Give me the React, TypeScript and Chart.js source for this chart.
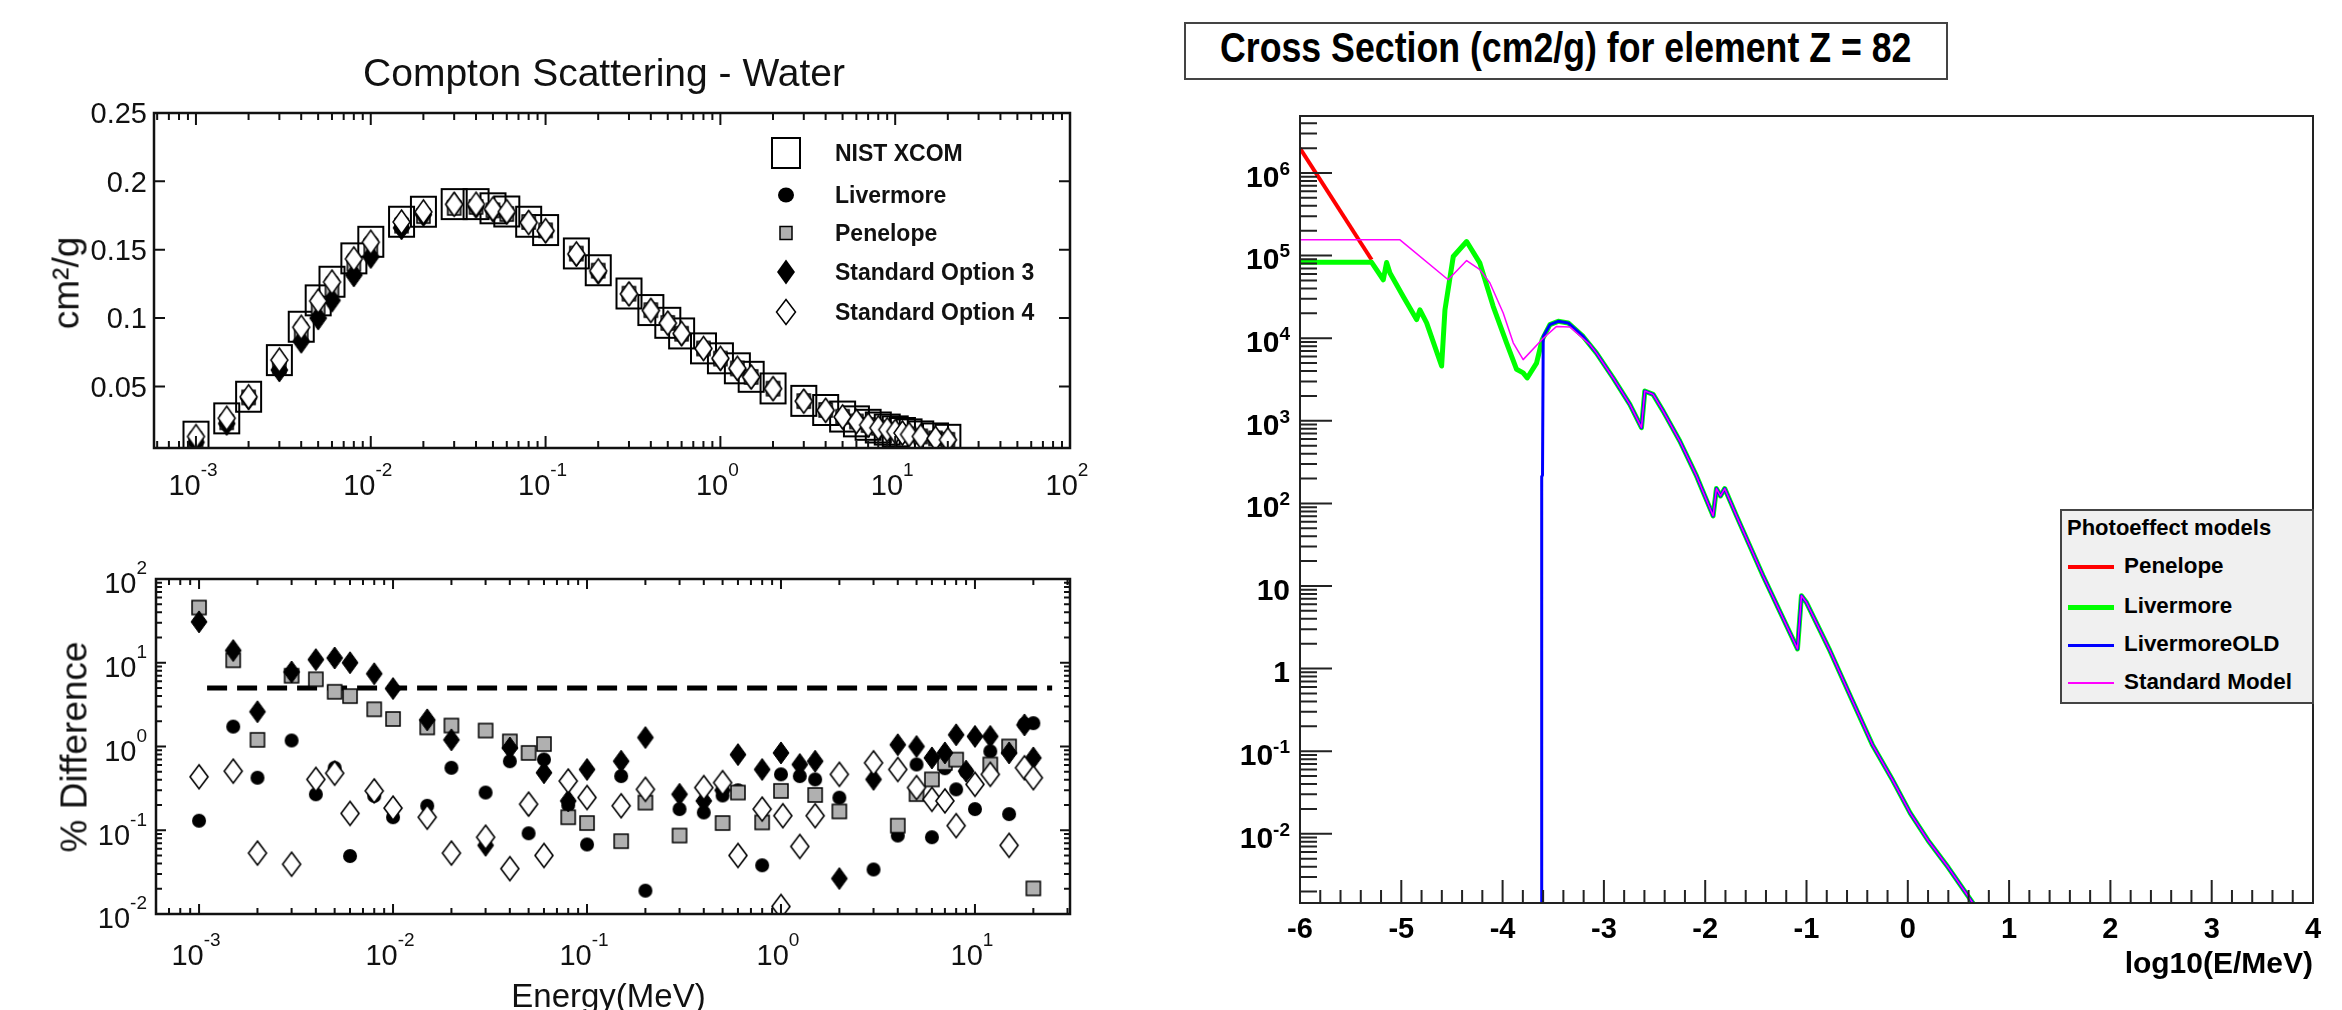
import React, { useEffect, useRef } from 'react';
import { Chart, registerables } from 'chart.js';

Chart.register(...registerables);

const FONT = '"Liberation Sans", Arial, Helvetica, sans-serif';

// ---------------- Compton Scattering - Water (top left) ----------------
const comptonEnergy = [0.001, 0.0015, 0.002, 0.003, 0.004, 0.005, 0.006, 0.008, 0.01, 0.015, 0.02, 0.03, 0.04, 0.05, 0.06, 0.08, 0.1, 0.15, 0.2, 0.3, 0.4, 0.5, 0.6, 0.8, 1, 1.25, 1.5, 2, 3, 4, 5, 6, 7, 8, 9, 10, 11, 12, 14, 17, 20];
const nistXcom = [0.0133, 0.0267, 0.0425, 0.0693, 0.0937, 0.113, 0.1266, 0.1437, 0.1558, 0.1705, 0.1778, 0.1834, 0.1834, 0.1803, 0.178, 0.1705, 0.1644, 0.1473, 0.135, 0.118, 0.1059, 0.0966, 0.0888, 0.0779, 0.0706, 0.0633, 0.0571, 0.0486, 0.0395, 0.0328, 0.028, 0.0245, 0.022, 0.02, 0.0185, 0.0172, 0.016, 0.015, 0.0135, 0.012, 0.011];
const livermoreCs = [0.0133, 0.0262, 0.0423, 0.0685, 0.0934, 0.1124, 0.1265, 0.1433, 0.1556, 0.1702, 0.1768, 0.1829, 0.1822, 0.1801, 0.1768, 0.1703, 0.1643, 0.1466, 0.135, 0.1178, 0.1057, 0.0964, 0.0885, 0.0779, 0.0703, 0.063, 0.0569, 0.0485, 0.0394, 0.0328, 0.0278, 0.0245, 0.0219, 0.0199, 0.0184, 0.0172, 0.016, 0.0149, 0.0135, 0.012, 0.011];
const penelopeCs = [0.0072, 0.0238, 0.042, 0.0645, 0.0877, 0.1079, 0.1215, 0.1397, 0.1525, 0.1676, 0.1746, 0.1806, 0.1813, 0.1788, 0.1761, 0.1703, 0.1642, 0.1472, 0.1347, 0.1179, 0.1058, 0.0965, 0.0886, 0.0778, 0.0704, 0.0632, 0.057, 0.0484, 0.0393, 0.0328, 0.0279, 0.0244, 0.0218, 0.0198, 0.0184, 0.0172, 0.016, 0.0149, 0.0135, 0.012, 0.011];
const stdOpt3Cs = [0.0092, 0.0229, 0.0414, 0.062, 0.083, 0.1, 0.113, 0.1315, 0.145, 0.166, 0.1757, 0.1833, 0.1816, 0.1788, 0.1771, 0.1701, 0.1635, 0.1463, 0.1333, 0.1177, 0.1057, 0.0963, 0.0881, 0.0775, 0.07, 0.0628, 0.0567, 0.0484, 0.0393, 0.0324, 0.0275, 0.0243, 0.0216, 0.0196, 0.0182, 0.017, 0.0158, 0.0147, 0.0134, 0.0119, 0.0109];
const stdOpt4Cs = [0.0134, 0.0268, 0.0425, 0.0693, 0.0933, 0.1125, 0.1264, 0.1433, 0.1555, 0.1703, 0.1777, 0.1832, 0.1833, 0.1799, 0.1779, 0.1699, 0.164, 0.147, 0.1346, 0.1177, 0.1056, 0.0963, 0.0888, 0.0778, 0.0706, 0.0633, 0.057, 0.0484, 0.0392, 0.0326, 0.0278, 0.0244, 0.0218, 0.0198, 0.0184, 0.0171, 0.016, 0.0149, 0.0135, 0.012, 0.011];
const comptonXTicks = [1e-3, 1e-2, 1e-1, 1, 10, 100];
const comptonXTickLabels = ['10^-3', '10^-2', '10^-1', '10^0', '10^1', '10^2'];
const comptonYTicks = [0.05, 0.1, 0.15, 0.2, 0.25];
const comptonYTickLabels = ['0.05', '0.1', '0.15', '0.2', '0.25'];
const comptonLegend = ['NIST XCOM', 'Livermore', 'Penelope', 'Standard Option 3', 'Standard Option 4'];

// ---------------- % Difference (bottom left) ----------------
const diffEnergy = [0.001, 0.0015, 0.002, 0.003, 0.004, 0.005, 0.006, 0.008, 0.01, 0.015, 0.02, 0.03, 0.04, 0.05, 0.06, 0.08, 0.1, 0.15, 0.2, 0.3, 0.4, 0.5, 0.6, 0.8, 1, 1.022, 1.25, 1.5, 2, 3, 4, 5, 6, 7, 8, 9, 10, 12, 15, 18, 20];
const livermoreDiff = [0.13, 1.73, 0.424, 1.18, 0.269, 0.557, 0.0492, 0.257, 0.143, 0.196, 0.557, 0.282, 0.667, 0.092, 0.7, 0.2, 0.0676, 0.443, 0.019, 0.179, 0.163, 0.26, 0.3, 0.0382, 0.465, null, 0.443, 0.405, 0.245, 0.034, 0.0865, 0.61, 0.0826, 0.55, 0.308, 0.5, 0.179, 0.877, 0.156, 1.85, 1.9];
const penelopeDiff = [45.6, 10.7, 1.2, 7.0, 6.35, 4.5, 4.0, 2.78, 2.13, 1.69, 1.78, 1.55, 1.15, 0.838, 1.07, 0.143, 0.122, 0.0741, 0.214, 0.0865, null, 0.122, 0.282, 0.124, 0.295, null, null, 0.264, 0.168, null, 0.1135, 0.27, 0.405, 0.638, 0.698, null, null, 0.61, 1.0, null, 0.0202];
const stdOpt3Diff = [30.8, 14, 2.6, 7.76, 10.9, 11.4, 10, 7.4, 4.92, 2.08, 1.2, 0.066, 0.96, 0.2, 0.486, 0.224, 0.532, 0.667, 1.28, 0.269, 0.224, 0.3, 0.8, 0.532, 0.838, null, 0.61, 0.667, 0.0265, 0.405, 1.05, 1.0, 0.731, 0.838, 1.38, 0.508, 1.32, 1.32, 0.838, 1.81, 0.731];
const stdOpt4Diff = [0.435, 0.508, 0.0534, 0.0393, 0.405, 0.48, 0.159, 0.295, 0.184, 0.143, 0.0534, 0.0826, 0.0348, 0.205, 0.05, 0.387, 0.246, 0.196, 0.308, null, 0.323, 0.37, 0.05, 0.179, 0.0123, 0.149, 0.064, 0.149, 0.465, 0.638, 0.532, 0.323, 0.234, 0.224, 0.1135, null, 0.353, 0.465, 0.066, 0.557, 0.424];
const diffLimitX = [0.0011, 25];
const diffLimitY = [5, 5];
const diffXTicks = [1e-3, 1e-2, 1e-1, 1, 10];
const diffXTickLabels = ['10^-3', '10^-2', '10^-1', '10^0', '10^1'];
const diffYTicks = [0.01, 0.1, 1, 10, 100];
const diffYTickLabels = ['10^-2', '10^-1', '10^0', '10^1', '10^2'];

// ---------------- Cross Section Z = 82 (right) ----------------
const penelopeLogE = [-6, -5.293];
const penelopeXs = [1.99e6, 8.9e4];
const livermoreLogE = [-6, -5.293, -5.178, -5.145, -5.112, -4.981, -4.849, -4.816, -4.75, -4.602, -4.569, -4.487, -4.355, -4.224, -4.093, -3.961, -3.862, -3.797, -3.757, -3.665, -3.609];
const livermoreXs = [8.3e4, 8.3e4, 5.1e4, 8.26e4, 6.15e4, 3.2e4, 1.68e4, 2.2e4, 1.53e4, 4.6e3, 2.2e4, 9.75e4, 1.48e5, 8.1e4, 2.43e4, 8.8e3, 4.2e3, 3.8e3, 3.3e3, 5.0e3, 9.6e3];
const livermoreOldLogE = [-3.618, -3.618, -3.612, -3.612, -3.606, -3.599];
const livermoreOldXs = [1.0e-3, 0.08, 0.085, 210, 220, 1.05e4];
const standardLogE = [-6, -5.013, -4.537, -4.355, -4.224, -4.125, -3.994, -3.895, -3.797, -3.599, -3.467, -3.336, -3.139];
const standardXs = [1.55e5, 1.55e5, 5.1e4, 8.7e4, 6.75e4, 4.66e4, 2.02e4, 8.8e3, 5.5e3, 1.0e4, 1.39e4, 1.37e4, 8.4e3];
const sharedLogE = [-3.533, -3.451, -3.353, -3.205, -3.073, -2.909, -2.744, -2.629, -2.596, -2.514, -2.415, -2.251, -2.086, -1.922, -1.889, -1.849, -1.807, -1.691, -1.429, -1.089, -1.05, -1.0, -0.77, -0.55, -0.35, -0.15, 0.024, 0.2, 0.4, 0.66];
const sharedXs = [1.46e4, 1.6e4, 1.53e4, 1.05e4, 6.6e3, 3.3e3, 1.58e3, 825, 2.29e3, 2.09e3, 1.31e3, 569, 215, 70.6, 151, 123, 151, 70.6, 13.3, 1.73, 7.64, 6.3, 1.66, 0.417, 0.12, 0.0447, 0.0178, 0.0083, 0.0039, 0.00135];
const xsXTicks = [-6, -5, -4, -3, -2, -1, 0, 1, 2, 3, 4];
const xsXTickLabels = ['-6', '-5', '-4', '-3', '-2', '-1', '0', '1', '2', '3', '4'];
const xsYTicks = [1e-2, 1e-1, 1, 10, 100, 1e3, 1e4, 1e5, 1e6];
const xsYTickLabels = ['10^-2', '10^-1', '1', '10', '10^2', '10^3', '10^4', '10^5', '10^6'];
const xsLegend = ['Penelope', 'Livermore', 'LivermoreOLD', 'Standard Model'];
const xsColors = ['#ff0000', '#00ff00', '#0000ff', '#ff00ff'];
const xsWidths = [4, 5, 3, 1.5];

// ---------------- helpers ----------------
const pts = (xs: number[], ys: (number | null)[]) =>
  xs.flatMap((x, i) => (ys[i] == null ? [] : [{ x, y: ys[i] as number }]));

function logMinor(min: number, max: number): number[] {
  const out: number[] = [];
  for (let e = Math.floor(Math.log10(min)); e <= Math.ceil(Math.log10(max)); e++) {
    for (let m = 2; m <= 9; m++) {
      const v = m * Math.pow(10, e);
      if (v >= min && v <= max) out.push(v);
    }
  }
  return out;
}

function stepMinor(min: number, max: number, step: number): number[] {
  const out: number[] = [];
  const n = Math.round((max - min) / step);
  for (let i = 0; i <= n; i++) {
    const v = min + i * step;
    if (Math.abs(v - Math.round(v)) > 1e-6) out.push(v);
  }
  return out;
}

function markerCanvas(kind: string, w: number, h: number, lw: number): HTMLCanvasElement {
  const pad = Math.ceil(lw) + 1;
  const c = document.createElement('canvas');
  c.width = Math.ceil(w + 2 * pad);
  c.height = Math.ceil(h + 2 * pad);
  const g = c.getContext('2d') as CanvasRenderingContext2D;
  const cx = c.width / 2;
  const cy = c.height / 2;
  g.lineWidth = lw;
  g.strokeStyle = '#000';
  g.beginPath();
  if (kind === 'square' || kind === 'graySquare') {
    g.rect(cx - w / 2, cy - h / 2, w, h);
  } else if (kind === 'circle') {
    g.ellipse(cx, cy, w / 2, h / 2, 0, 0, Math.PI * 2);
  } else {
    g.moveTo(cx, cy - h / 2);
    g.lineTo(cx + w / 2, cy);
    g.lineTo(cx, cy + h / 2);
    g.lineTo(cx - w / 2, cy);
    g.closePath();
  }
  if (kind === 'graySquare') {
    g.fillStyle = '#b0b0b0';
    g.fill();
    g.stroke();
  } else if (kind === 'circle' || kind === 'diamond') {
    g.fillStyle = '#000';
    g.fill();
    if (lw > 0) g.stroke();
  } else if (kind === 'openDiamond') {
    g.fillStyle = '#fff';
    g.fill();
    g.stroke();
  } else {
    g.stroke();
  }
  return c;
}

type TickSpec = { major: number[]; minor: number[]; majorLen: number; minorLen: number; sides: string[] };
type LabelSpec = {
  values: number[]; labels: string[]; size: number; weight: string; supSize: number; supRise: number;
  offset: number; shift: number; color: string;
};

function makeFramePlugin(spec: {
  x: TickSpec; y: TickSpec; color: string; tickWidth: number; frameWidth: number; xLabels: LabelSpec; yLabels: LabelSpec;
}) {
  return {
    id: 'rootFrame',
    afterDraw(chart: any) {
      const { ctx, chartArea: a, scales } = chart;
      ctx.save();
      ctx.strokeStyle = spec.color;
      ctx.lineWidth = spec.tickWidth;
      const drawX = (vals: number[], len: number) => {
        ctx.beginPath();
        for (const v of vals) {
          const p = scales.x.getPixelForValue(v);
          if (p < a.left - 0.5 || p > a.right + 0.5) continue;
          for (const s of spec.x.sides) {
            if (s === 'bottom') {
              ctx.moveTo(p, a.bottom);
              ctx.lineTo(p, a.bottom - len);
            } else {
              ctx.moveTo(p, a.top);
              ctx.lineTo(p, a.top + len);
            }
          }
        }
        ctx.stroke();
      };
      const drawY = (vals: number[], len: number) => {
        ctx.beginPath();
        for (const v of vals) {
          const p = scales.y.getPixelForValue(v);
          if (p < a.top - 0.5 || p > a.bottom + 0.5) continue;
          for (const s of spec.y.sides) {
            if (s === 'left') {
              ctx.moveTo(a.left, p);
              ctx.lineTo(a.left + len, p);
            } else {
              ctx.moveTo(a.right, p);
              ctx.lineTo(a.right - len, p);
            }
          }
        }
        ctx.stroke();
      };
      drawX(spec.x.major, spec.x.majorLen);
      drawX(spec.x.minor, spec.x.minorLen);
      drawY(spec.y.major, spec.y.majorLen);
      drawY(spec.y.minor, spec.y.minorLen);
      ctx.lineWidth = spec.frameWidth;
      ctx.strokeRect(a.left, a.top, a.right - a.left, a.bottom - a.top);

      // tick labels with ROOT-like superscripts, placed through the scales
      const drawLabel = (L: LabelSpec, text: string, x: number, cy: number, align: string) => {
        const [base, sup] = text.split('^');
        const bf = `${L.weight} ${L.size}px ${FONT}`;
        const sf = `${L.weight} ${L.supSize}px ${FONT}`;
        ctx.font = bf;
        const bw = ctx.measureText(base).width;
        let sw = 0;
        if (sup !== undefined) {
          ctx.font = sf;
          sw = ctx.measureText(sup).width;
        }
        const total = bw + sw;
        const left = align === 'center' ? x - total / 2 : x - total;
        const baseline = cy + 0.358 * L.size;
        ctx.fillStyle = L.color;
        ctx.textAlign = 'left';
        ctx.textBaseline = 'alphabetic';
        ctx.font = bf;
        ctx.fillText(base, left, baseline);
        if (sup !== undefined) {
          ctx.font = sf;
          ctx.fillText(sup, left + bw, baseline - L.supRise);
        }
      };
      const XL = spec.xLabels;
      XL.values.forEach((v, i) => {
        const p = scales.x.getPixelForValue(v);
        drawLabel(XL, XL.labels[i], p + XL.shift, a.bottom + XL.offset, 'center');
      });
      const YL = spec.yLabels;
      YL.values.forEach((v, i) => {
        const p = scales.y.getPixelForValue(v);
        drawLabel(YL, YL.labels[i], a.left - YL.offset, p + YL.shift, 'right');
      });
      ctx.restore();
    },
  };
}

function axis(o: { type: string; position: string; min: number; max: number; ticks: number[]; size: number }) {
  const horizontal = o.position === 'bottom';
  return {
    type: o.type,
    position: o.position,
    min: o.min,
    max: o.max,
    grid: { display: false, drawTicks: false },
    border: { display: false },
    afterBuildTicks: (s: any) => {
      s.ticks = o.ticks.map((v) => ({ value: v }));
    },
    afterFit: (s: any) => {
      if (horizontal) s.height = o.size;
      else s.width = o.size;
    },
    ticks: { display: false, autoSkip: false, maxRotation: 0, minRotation: 0 },
  };
}

function baseOptions(padding: any, x: any, y: any) {
  return {
    responsive: false,
    animation: false,
    devicePixelRatio: 1,
    events: [],
    layout: { padding },
    plugins: { legend: { display: false }, tooltip: { enabled: false }, title: { display: false } },
    scales: { x, y },
  };
}

function LegendMarker({ kind }: { kind: string }) {
  if (kind === 'square')
    return (<svg width={32} height={34}><rect x={2} y={2} width={28} height={30} fill="none" stroke="#000" strokeWidth={2} /></svg>);
  if (kind === 'circle')
    return (<svg width={32} height={34}><ellipse cx={16} cy={17} rx={8} ry={7.5} fill="#000" /></svg>);
  if (kind === 'graySquare')
    return (<svg width={32} height={34}><rect x={10} y={10.5} width={12} height={13} fill="#b0b0b0" stroke="#000" strokeWidth={1.5} /></svg>);
  if (kind === 'diamond')
    return (<svg width={32} height={34}><polygon points="16,4.5 25,17 16,29.5 7,17" fill="#000" /></svg>);
  return (<svg width={32} height={34}><polygon points="16,4.5 25.5,17 16,29.5 6.5,17" fill="#fff" stroke="#000" strokeWidth={1.5} /></svg>);
}

const abs = (s: any) => ({ position: 'absolute' as const, whiteSpace: 'nowrap' as const, lineHeight: 1, ...s });

export default function App() {
  const topRef = useRef<HTMLCanvasElement>(null);
  const botRef = useRef<HTMLCanvasElement>(null);
  const xsRef = useRef<HTMLCanvasElement>(null);

  useEffect(() => {
    const charts: Chart[] = [];
    const scat = (label: string, xs: number[], ys: (number | null)[], style: any, order: number) => ({
      label, data: pts(xs, ys), pointStyle: style, pointRadius: 8, order, showLine: false,
    });

    // ---- top-left chart ----
    const mSqTop = markerCanvas('square', 25, 30, 2);
    const mCircTop = markerCanvas('circle', 15, 15, 0);
    const mGrayTop = markerCanvas('graySquare', 13, 14, 1.5);
    const mDiaTop = markerCanvas('diamond', 17, 24, 1);
    const mODiaTop = markerCanvas('openDiamond', 17, 24, 1.5);
    const topXMin = Math.pow(10, -3.24);
    const topFrame = makeFramePlugin({
      x: { major: comptonXTicks, minor: logMinor(topXMin, 100), majorLen: 12, minorLen: 7, sides: ['bottom', 'top'] },
      y: { major: comptonYTicks, minor: [], majorLen: 11, minorLen: 0, sides: ['left', 'right'] },
      color: '#111', tickWidth: 2, frameWidth: 2.5,
      xLabels: { values: comptonXTicks, labels: comptonXTickLabels, size: 29, weight: 'normal', supSize: 19, supRise: 19, offset: 37, shift: -3, color: '#111' },
      yLabels: { values: comptonYTicks, labels: comptonYTickLabels, size: 29, weight: 'normal', supSize: 19, supRise: 19, offset: 7, shift: 0, color: '#111' },
    });
    if (topRef.current) {
      charts.push(new Chart(topRef.current, {
        type: 'scatter',
        data: {
          datasets: [
            scat('NIST XCOM', comptonEnergy, nistXcom, mSqTop, 5),
            scat('Livermore', comptonEnergy, livermoreCs, mCircTop, 4),
            scat('Penelope', comptonEnergy, penelopeCs, mGrayTop, 3),
            scat('Standard Option 3', comptonEnergy, stdOpt3Cs, mDiaTop, 2),
            scat('Standard Option 4', comptonEnergy, stdOpt4Cs, mODiaTop, 1),
          ],
        },
        options: baseOptions(
          { left: 0, top: 53, right: 60, bottom: 0 },
          axis({ type: 'logarithmic', position: 'bottom', min: topXMin, max: 100, ticks: comptonXTicks, size: 82 }),
          axis({ type: 'linear', position: 'left', min: 0.005, max: 0.25, ticks: comptonYTicks, size: 154 }),
        ) as any,
        plugins: [topFrame],
      }));
    }

    // ---- bottom-left chart ----
    const mCirc = markerCanvas('circle', 14, 14, 0);
    const mGray = markerCanvas('graySquare', 14, 14, 1.5);
    const mDia = markerCanvas('diamond', 16, 22, 1);
    const mODia = markerCanvas('openDiamond', 18, 24, 1.6);
    const botXMin = Math.pow(10, -3.222);
    const botXMax = Math.pow(10, 1.49);
    const botFrame = makeFramePlugin({
      x: { major: diffXTicks, minor: logMinor(botXMin, botXMax), majorLen: 10, minorLen: 6, sides: ['bottom', 'top'] },
      y: { major: diffYTicks, minor: logMinor(0.01, 100), majorLen: 10, minorLen: 6, sides: ['left', 'right'] },
      color: '#111', tickWidth: 2, frameWidth: 2.5,
      xLabels: { values: diffXTicks, labels: diffXTickLabels, size: 29, weight: 'normal', supSize: 19, supRise: 19, offset: 41, shift: -3, color: '#111' },
      yLabels: { values: diffYTicks, labels: diffYTickLabels, size: 29, weight: 'normal', supSize: 19, supRise: 19, offset: 9, shift: 4, color: '#111' },
    });
    if (botRef.current) {
      charts.push(new Chart(botRef.current, {
        type: 'scatter',
        data: {
          datasets: [
            {
              label: '5% limit', data: pts(diffLimitX, diffLimitY), showLine: true, borderColor: '#000',
              borderWidth: 5, borderDash: [20, 10], pointRadius: 0, order: 6,
            },
            scat('Livermore', diffEnergy, livermoreDiff, mCirc, 4),
            scat('Penelope', diffEnergy, penelopeDiff, mGray, 3),
            scat('Standard Option 3', diffEnergy, stdOpt3Diff, mDia, 2),
            scat('Standard Option 4', diffEnergy, stdOpt4Diff, mODia, 1),
          ],
        },
        options: baseOptions(
          { left: 0, top: 44, right: 60, bottom: 0 },
          axis({ type: 'logarithmic', position: 'bottom', min: botXMin, max: botXMax, ticks: diffXTicks, size: 96 }),
          axis({ type: 'logarithmic', position: 'left', min: 0.01, max: 100, ticks: diffYTicks, size: 156 }),
        ) as any,
        plugins: [botFrame],
      }));
    }

    // ---- right chart ----
    const xsMin = Math.pow(10, -2.838);
    const xsMax = Math.pow(10, 6.69);
    const xsFrame = makeFramePlugin({
      x: { major: xsXTicks, minor: stepMinor(-6, 4, 0.2), majorLen: 23, minorLen: 13, sides: ['bottom'] },
      y: { major: xsYTicks, minor: logMinor(xsMin, xsMax), majorLen: 32, minorLen: 17, sides: ['left'] },
      color: '#222', tickWidth: 2, frameWidth: 2,
      xLabels: { values: xsXTicks, labels: xsXTickLabels, size: 29, weight: 'bold', supSize: 19, supRise: 12, offset: 25, shift: 0, color: '#000' },
      yLabels: { values: xsYTicks, labels: xsYTickLabels, size: 30, weight: 'bold', supSize: 19, supRise: 12, offset: 10, shift: 3, color: '#000' },
    });
    const line = (label: string, xs: number[], ys: number[], i: number, order: number) => ({
      label, data: pts(xs, ys), showLine: true, borderColor: xsColors[i], backgroundColor: xsColors[i],
      borderWidth: xsWidths[i], pointRadius: 0, order, tension: 0, borderJoinStyle: 'round',
    });
    if (xsRef.current) {
      charts.push(new Chart(xsRef.current, {
        type: 'scatter',
        data: {
          datasets: [
            line('Penelope', penelopeLogE, penelopeXs, 0, 4),
            line('Livermore', [...livermoreLogE, ...sharedLogE], [...livermoreXs, ...sharedXs], 1, 3),
            line('LivermoreOLD', [...livermoreOldLogE, ...sharedLogE], [...livermoreOldXs, ...sharedXs], 2, 2),
            line('Standard Model', [...standardLogE, ...sharedLogE.slice(4)], [...standardXs, ...sharedXs.slice(4)], 3, 1),
          ],
        },
        options: baseOptions(
          { left: 0, top: 56, right: 29, bottom: 0 },
          axis({ type: 'linear', position: 'bottom', min: -6, max: 4, ticks: xsXTicks, size: 107 }),
          axis({ type: 'logarithmic', position: 'left', min: xsMin, max: xsMax, ticks: xsYTicks, size: 160 }),
        ) as any,
        plugins: [xsFrame],
      }));
    }

    return () => charts.forEach((c) => c.destroy());
  }, []);

  const legendKinds = ['square', 'circle', 'graySquare', 'diamond', 'openDiamond'];
  const legendY = [153, 195, 233, 272, 312];
  const xsLegendY = [567, 607, 645, 683];

  return (
    <div style={{ position: 'absolute', left: 0, top: 0, width: 2342, height: 1010, overflow: 'hidden', background: '#fff', fontFamily: FONT, color: '#111' }}>
      <canvas ref={topRef} width={1130} height={470} style={{ position: 'absolute', left: 0, top: 60, width: 1130, height: 470 }} />
      <canvas ref={botRef} width={1130} height={475} style={{ position: 'absolute', left: 0, top: 535, width: 1130, height: 475 }} />
      <canvas ref={xsRef} width={1202} height={950} style={{ position: 'absolute', left: 1140, top: 60, width: 1202, height: 950 }} />

      {/* left titles */}
      <div style={abs({ left: 604, top: 71.5, transform: 'translate(-50%,-50%)', fontSize: 39 })}>Compton Scattering - Water</div>
      <div style={abs({ left: 66, top: 282.5, transform: 'translate(-50%,-50%) rotate(-90deg)', fontSize: 37 })}>cm²/g</div>
      <div style={abs({ left: 73.7, top: 747, transform: 'translate(-50%,-50%) rotate(-90deg)', fontSize: 37 })}>% Difference</div>
      <div style={abs({ left: 608.5, top: 979, transform: 'translateX(-50%)', fontSize: 33 })}>Energy(MeV)</div>

      {/* top-left legend */}
      {comptonLegend.map((t, i) => (
        <React.Fragment key={t}>
          <div style={abs({ left: 770, top: legendY[i] - 17 })}><LegendMarker kind={legendKinds[i]} /></div>
          <div style={abs({ left: 835, top: legendY[i], transform: 'translateY(-50%)', fontSize: 23, fontWeight: 'bold' })}>{t}</div>
        </React.Fragment>
      ))}

      {/* right title box */}
      <div style={{ position: 'absolute', left: 1184, top: 22, width: 764, height: 58, boxSizing: 'border-box', border: '2px solid #444', background: '#fff', display: 'flex', alignItems: 'center', justifyContent: 'center' }}>
        <span style={{ fontSize: 42, fontWeight: 'bold', lineHeight: 1, whiteSpace: 'nowrap', transform: 'scaleX(0.85)', position: 'relative', top: -3, color: '#000' }}>
          Cross Section (cm2/g) for element Z = 82
        </span>
      </div>
      <div style={abs({ left: 2313, top: 963, transform: 'translate(-100%,-50%)', fontSize: 30, fontWeight: 'bold', color: '#000' })}>log10(E/MeV)</div>

      {/* right legend */}
      <div style={{ position: 'absolute', left: 2060, top: 509, width: 254, height: 195, boxSizing: 'border-box', border: '2px solid #444', background: '#f0f0f0' }} />
      <div style={abs({ left: 2067, top: 528, transform: 'translateY(-50%)', fontSize: 22, fontWeight: 'bold', color: '#000' })}>Photoeffect models</div>
      {xsLegend.map((t, i) => (
        <React.Fragment key={t}>
          <div style={{ position: 'absolute', left: 2068, top: xsLegendY[i] - xsWidths[i] / 2, width: 46, height: xsWidths[i], background: xsColors[i] }} />
          <div style={abs({ left: 2124, top: xsLegendY[i] - 1, transform: 'translateY(-50%)', fontSize: 22.4, fontWeight: 'bold', color: '#000' })}>{t}</div>
        </React.Fragment>
      ))}
    </div>
  );
}
